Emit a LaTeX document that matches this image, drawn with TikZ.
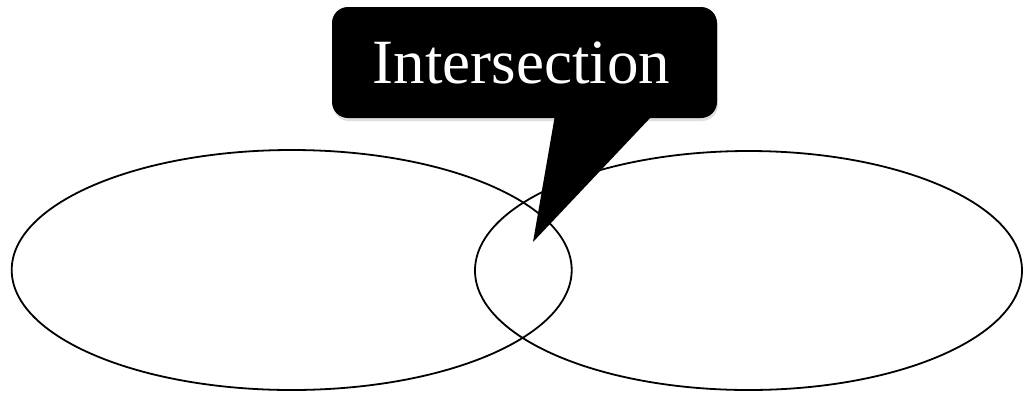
\documentclass[tikz,border=0pt]{standalone}
\usepackage{fontspec}
\setmainfont{Liberation Serif}
\usetikzlibrary{shapes.geometric,shadows,calc}
\begin{document}
\begin{tikzpicture}[x=1pt,y=-1pt,
  setshape/.style={ellipse,draw=black,line width=1.8pt,inner sep=0pt},
  calloutbox/.style={fill=black,rounded corners=16pt,minimum width=385pt,minimum height=111pt,inner sep=0pt,
    drop shadow={opacity=0.25,shadow xshift=1pt,shadow yshift=-3pt}},
  calloutlabel/.style={text=white,font=\fontsize{63}{63}\selectfont,inner sep=0pt}]
\useasboundingbox (0,0) rectangle (1023,392);
\node[setshape,minimum width=560pt,minimum height=240pt] (A) at (291.7,270) {};
\node[setshape,minimum width=547pt,minimum height=239pt] (B) at (748.5,270.5) {};
\node[calloutbox] (C) at (524.5,62.5) {};
\node[calloutlabel,anchor=base] (T) at (521.5,83) {Intersection};
\coordinate (tip) at (533,242);
\coordinate (tl) at ($(C.south west)+(223,-2)$);
\coordinate (tr) at ($(C.south west)+(320,-2)$);
\fill[black] (tl) -- (tip) -- (tr) -- cycle;
\end{tikzpicture}
\end{document}
